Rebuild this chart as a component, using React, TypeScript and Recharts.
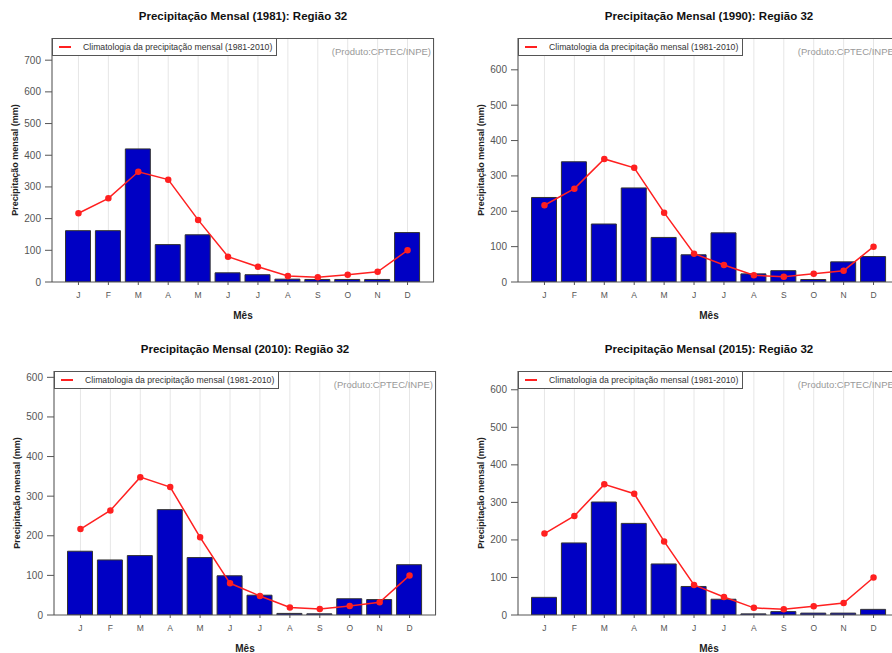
import React from 'react';
import { ComposedChart, Bar, Line, XAxis, YAxis, CartesianGrid, Legend, Label } from 'recharts';

const meses = ['J', 'F', 'M', 'A', 'M', 'J', 'J', 'A', 'S', 'O', 'N', 'D'];
const climatologia = [217, 264, 348, 323, 196, 80, 48, 19, 15, 23, 32, 100];
const chuva1981 = [162, 162, 420, 118, 149, 29, 23, 9, 8, 8, 8, 156];
const chuva1990 = [239, 340, 164, 266, 126, 77, 139, 23, 32, 7, 57, 72];
const chuva2010 = [161, 139, 150, 266, 145, 99, 50, 4, 3, 41, 39, 127];
const chuva2015 = [47, 192, 301, 244, 136, 76, 42, 3, 9, 5, 5, 15];

const ticks700 = [0, 100, 200, 300, 400, 500, 600, 700];
const ticks600 = [0, 100, 200, 300, 400, 500, 600];

const FONT = '"Liberation Sans", Arial, sans-serif';
const AXIS = '#555';

const LegendaClim = () => (
  <div style={{
    width: 223, height: 16, border: `1px solid ${AXIS}`, background: '#fff',
    display: 'flex', alignItems: 'center', fontFamily: FONT, fontSize: 8.7, color: '#333',
    whiteSpace: 'nowrap',
  }}>
    <div style={{ width: 12, height: 2, background: '#ff2020', marginLeft: 6, marginRight: 12 }} />
    <span>Climatologia da precipitação mensal (1981-2010)</span>
  </div>
);

interface PainelProps {
  ano: number;
  valores: number[];
  yMax: number;
  ticks: number[];
  left: number;
  top: number;
}

const Painel: React.FC<PainelProps> = ({ ano, valores, yMax, ticks, left, top }) => {
  const data = meses.map((m, i) => ({ mes: m, valor: valores[i], clim: climatologia[i] }));

  return (
    <div style={{ position: 'absolute', left, top, width: 446, height: 326 }}>
      <div style={{
        position: 'absolute', left: 52, top: 10, width: 382, textAlign: 'center',
        fontFamily: FONT, fontSize: 11.5, fontWeight: 'bold', color: '#111',
      }}>
        {`Precipitação Mensal (${ano}): Região 32`}
      </div>
      <ComposedChart width={446} height={326} data={data} margin={{ top: 38, right: 12, left: 6, bottom: 7 }}>
        <CartesianGrid horizontal={false} stroke="#e6e6e6" />
        <XAxis
          dataKey="mes"
          padding={{ left: 11.5, right: 11.5 }}
          height={37}
          stroke={AXIS}
          tickSize={3}
          tickMargin={7}
          tick={{ fontSize: 8.5, fill: '#555', fontFamily: FONT }}
        >
          <Label value="Mês" position="insideBottom" offset={0}
            style={{ fontSize: 10, fontWeight: 'bold', fill: '#222', fontFamily: FONT }} />
        </XAxis>
        <YAxis
          domain={[0, yMax]}
          ticks={ticks}
          allowDataOverflow
          width={46}
          stroke={AXIS}
          tickSize={7}
          tickMargin={4}
          tick={{ fontSize: 10, fill: '#555', fontFamily: FONT }}
        >
          <Label value="Precipitação mensal (mm)" angle={-90} position="insideLeft" offset={9}
            style={{ textAnchor: 'middle', fontSize: 9, fontWeight: 'bold', fill: '#222', fontFamily: FONT }} />
        </YAxis>
        <Legend
          verticalAlign="middle"
          content={<LegendaClim />}
          wrapperStyle={{ position: 'absolute', top: 38, left: 52, width: 'auto' }}
        />
        <Bar dataKey="valor" fill="#0000c4" stroke="#333" strokeWidth={1} barSize={25} isAnimationActive={false} legendType="none" />
        <Line dataKey="clim" stroke="#ff2020" strokeWidth={1.5} dot={{ r: 2.5, fill: '#ff2020', stroke: '#ff2020' }}
          activeDot={false} isAnimationActive={false} />
      </ComposedChart>
      {/* moldura da área de plotagem */}
      <div style={{
        position: 'absolute', left: 52, top: 38, width: 382, height: 244,
        borderTop: `1px solid ${AXIS}`, borderRight: `1px solid ${AXIS}`, boxSizing: 'border-box', pointerEvents: 'none',
      }} />
      <div style={{
        position: 'absolute', right: 15, top: 46, fontFamily: FONT, fontSize: 9.5, color: '#999',
        whiteSpace: 'nowrap',
      }}>
        (Produto:CPTEC/INPE)
      </div>
    </div>
  );
};

export default function App() {
  return (
    <div style={{ position: 'absolute', left: 0, top: 0, width: 892, height: 653, overflow: 'hidden', background: '#fff' }}>
      <Painel ano={1981} valores={chuva1981} yMax={770} ticks={ticks700} left={0} top={0} />
      <Painel ano={1990} valores={chuva1990} yMax={690} ticks={ticks600} left={466} top={0} />
      <Painel ano={2010} valores={chuva2010} yMax={616} ticks={ticks600} left={2} top={333} />
      <Painel ano={2015} valores={chuva2015} yMax={650} ticks={ticks600} left={466} top={333} />
    </div>
  );
}
